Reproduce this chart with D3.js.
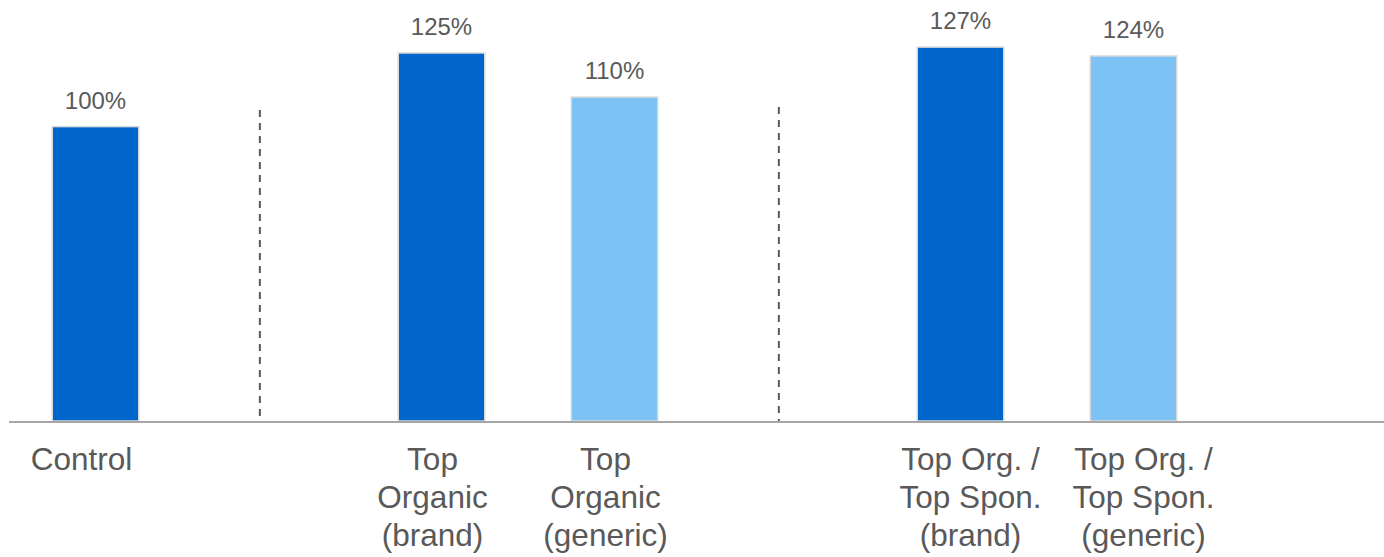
<!DOCTYPE html>
<html>
<head>
<meta charset="utf-8">
<script src="https://cdn.jsdelivr.net/npm/d3@7"></script>
<style>
  html, body { margin: 0; padding: 0; background: #ffffff; }
  svg { display: block; }
  text { font-family: "Liberation Sans", Arial, Helvetica, sans-serif; fill: #595959; }
</style>
</head>
<body>
<svg id="chart" width="1384" height="557"></svg>
<script>
// ---- Data ----
const slots = ["Control", "sep1", "TopOrganicBrand", "TopOrganicGeneric", "sep2", "TopOrgSponBrand", "TopOrgSponGeneric", "blank"];
const categories = ["Control", "TopOrganicBrand", "TopOrganicGeneric", "TopOrgSponBrand", "TopOrgSponGeneric"];
const categoryLabels = [
  ["Control"],
  ["Top", "Organic", "(brand)"],
  ["Top", "Organic", "(generic)"],
  ["Top Org. /", "Top Spon.", "(brand)"],
  ["Top Org. /", "Top Spon.", "(generic)"]
];
const values = [100, 125, 110, 127, 124];
const valueLabels = ["100%", "125%", "110%", "127%", "124%"];
const barType = ["brand", "brand", "generic", "brand", "generic"];
const separators = ["sep1", "sep2"];

// ---- Layout ----
const W = 1384, H = 557;
const baseY = 421;
const svg = d3.select("#chart");

const x = d3.scaleBand().domain(slots).range([9, 1393]).paddingInner(0.5).paddingOuter(0.25);
const y = d3.scaleLinear().domain([0, 143]).range([baseY, 0]);
const color = d3.scaleOrdinal().domain(["brand", "generic"]).range(["#0066CC", "#7DC2F4"]);

const data = categories.map((c, i) => ({ c, v: values[i], label: valueLabels[i], lines: categoryLabels[i], type: barType[i], i }));

// separators (dashed)
const sepTop = [110, 107];
svg.append("g").selectAll("line").data(separators).join("line")
  .attr("x1", d => x(d) + x.bandwidth() / 2 - 0.05 * x.step())
  .attr("x2", d => x(d) + x.bandwidth() / 2 - 0.05 * x.step())
  .attr("y1", (d, i) => sepTop[i])
  .attr("y2", baseY)
  .attr("stroke", "#595959")
  .attr("stroke-width", 2)
  .attr("stroke-dasharray", "7,6");

// bars
svg.append("g").selectAll("rect").data(data).join("rect")
  .attr("x", d => x(d.c))
  .attr("y", d => y(d.v))
  .attr("width", x.bandwidth())
  .attr("height", d => baseY - y(d.v))
  .attr("fill", d => color(d.type))
  .attr("stroke", "#d9d9d9")
  .attr("stroke-width", 1.5);

// baseline axis
const axis = d3.axisBottom(x).tickSize(0).tickFormat("");
const gAxis = svg.append("g").attr("transform", `translate(0,${baseY + 1})`).call(axis);
gAxis.select(".domain").attr("stroke", "#a6a6a6").attr("stroke-width", 2).attr("d", `M9,0H${W}`);

// value labels
svg.append("g").selectAll("text").data(data).join("text")
  .attr("x", d => x(d.c) + x.bandwidth() / 2)
  .attr("y", d => y(d.v) - 18)
  .attr("text-anchor", "middle")
  .attr("font-size", 24)
  .text(d => d.label);

// category labels
const shift = [-14, -9, -9, 10, 10];
const cl = svg.append("g").selectAll("text").data(data).join("text")
  .attr("text-anchor", "middle")
  .attr("font-size", 31.5)
  .attr("transform", d => `translate(${x(d.c) + x.bandwidth() / 2 + shift[d.i]},470)`);
cl.selectAll("tspan").data(d => d.lines).join("tspan")
  .attr("x", 0)
  .attr("y", (d, i) => i * 38)
  .text(d => d);
</script>
</body>
</html>
